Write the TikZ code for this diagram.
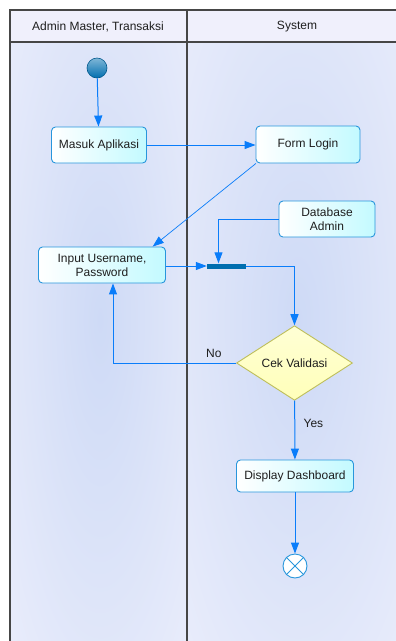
\documentclass[tikz,border=0pt]{standalone}
\usepackage{fontspec}
\setmainfont{Liberation Sans}
\usetikzlibrary{arrows.meta, positioning, shapes.geometric}

\definecolor{lanebase}{RGB}{238,240,252}
\definecolor{laneblue}{RGB}{206,218,246}
\definecolor{headfill}{RGB}{240,240,252}
\definecolor{frame}{RGB}{70,70,70}
\definecolor{actborder}{RGB}{40,150,220}
\definecolor{actfill}{RGB}{195,250,255}
\definecolor{flowblue}{RGB}{10,125,250}
\definecolor{forkblue}{RGB}{0,110,175}
\definecolor{decborder}{RGB}{190,190,90}
\definecolor{decfill}{RGB}{255,255,185}
\definecolor{txt}{RGB}{30,30,30}

\begin{document}
\begin{tikzpicture}[x=1pt, y=-1pt,
  every node/.style={font=\fontsize{12}{14}\selectfont, text=txt},
  lane/.style={draw=frame, line width=1.3pt},
  act/.style={draw=actborder, line width=0.9pt, rounded corners=4pt, left color=white, right color=actfill, align=center, inner sep=2pt},
  decision/.style={diamond, draw=decborder, line width=0.9pt, top color=decfill!60!white, bottom color=decfill, inner sep=0pt, minimum width=116pt, minimum height=62pt},
  startnode/.style={circle, draw=forkblue!80!black, line width=0.6pt, top color=forkblue!50!white, bottom color=forkblue, minimum size=20pt, inner sep=0pt},
  endnode/.style={circle, draw=actborder, line width=0.9pt, fill=white, minimum size=24pt, inner sep=0pt},
  forkbar/.style={rectangle, fill=forkblue, minimum width=39pt, minimum height=5pt, inner sep=0pt},
  flow/.style={draw=flowblue, line width=1pt, -{Triangle[width=8pt,length=11pt]}}]
  \useasboundingbox (0,0) rectangle (396,641);
  \fill[white] (0,0) rectangle (396,641);
  % swimlanes
  \begin{scope}
    \clip (10,42) rectangle (187,645);
    \fill[lanebase] (10,42) rectangle (187,645);
    \shade[inner color=laneblue, outer color=lanebase] (100,320) ellipse (150 and 560);
  \end{scope}
  \begin{scope}
    \clip (187,42) rectangle (400,645);
    \fill[lanebase] (187,42) rectangle (400,645);
    \shade[inner color=laneblue, outer color=lanebase] (298,320) ellipse (190 and 560);
  \end{scope}
  \fill[headfill] (10,10) rectangle (400,42);
  \draw[lane] (400,10) -- (10,10) -- (10,645);
  \draw[lane] (10,42) -- (400,42);
  \draw[lane] (187,10) -- (187,645);
  \node (laneadmin) at (98,27) {Admin Master, Transaksi};
  \node (lanesys) at (297,27) {System};

  \node[startnode] (start) at (97,68) {};
  \node[act, minimum width=95pt, minimum height=36pt] (masuk) at (99,145) {Masuk Aplikasi};
  \node[act, minimum width=104pt, minimum height=37pt] (login) at (308,144.5) {Form Login};
  \node[act, minimum width=96pt, minimum height=36pt] (db) at (327,219) {Database\\Admin};
  \node[act, minimum width=127pt, minimum height=36pt] (input) at (102,265) {Input Username,\\Password};
  \node[forkbar] (join) at (226.5,266) {};
  \node[decision] (cek) at (294.5,363) {Cek Validasi};
  \node[act, minimum width=117pt, minimum height=32pt] (dash) at (295,476) {Display Dashboard};
  \node[endnode] (end) at (295,566) {};
  \draw[actborder, line width=0.9pt] (end.45) -- (end.225) (end.135) -- (end.315);

  \draw[flow] (start) -- (masuk);
  \draw[flow] (masuk.east) -- (masuk.east -| login.west);
  \draw[flow, line width=0.7pt] (login.200) -- (input.20);
  \draw[flow] (db.west) -| ([xshift=-8pt]join.north);
  \draw[flow] (input.east |- join) -- (join.west);
  \draw[flow] (join.east) -| (cek.north);
  \draw[flow] (cek.west) -| node[pos=0.09, above, yshift=2pt] {No} ([xshift=11pt]input.south);
  \draw[flow] (cek) -- node[pos=0.38, right, xshift=5pt] {Yes} (dash);
  \draw[flow] (dash) -- (end);
\end{tikzpicture}
\end{document}
